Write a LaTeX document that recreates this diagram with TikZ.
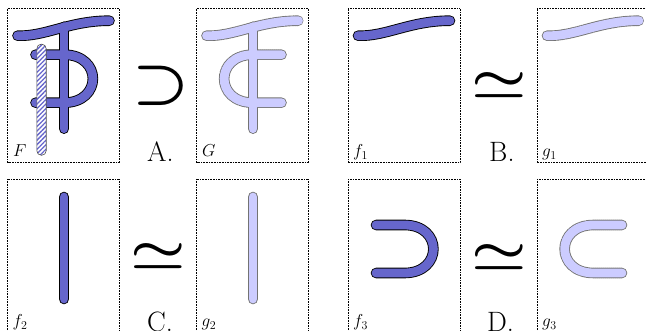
\documentclass[tikz,border=0pt]{standalone}
\usetikzlibrary{patterns.meta}
\definecolor{fblue}{RGB}{102,102,204}
\definecolor{gblue}{RGB}{204,204,255}
\tikzset{
  frame/.style={densely dotted, line width=0.6pt},
  outl/.style={line width=10.6pt, line cap=round, line join=round, black},
  inl/.style={line width=8.8pt, line cap=round, line join=round, fblue},
  goutl/.style={line width=10.6pt, line cap=round, line join=round, black!55, dash pattern=on 1.2pt off 0.8pt},
  ginl/.style={line width=8.8pt, line cap=round, line join=round, gblue},
  lab/.style={anchor=base west, inner sep=0pt, font=\fontsize{17}{17}\selectfont},
  big/.style={anchor=base west, inner sep=0pt, font=\fontsize{28}{28}\selectfont},
  rel/.style={inner sep=0pt, font=\Huge\boldmath, transform shape},
  supsym/.style={rel, xscale=2.56, yscale=2.35},
  simsym/.style={rel, xscale=2.5, yscale=2.0}
}
\newcommand\myBar[1]{\draw[#1] (10,27) .. controls (38,28) and (62,12) .. (102,12);}
\newcommand\myStem[1]{\draw[#1] (56.5,18) -- (56.5,120);}
\newcommand\myBowlR[1]{\draw[#1] (28,46) -- (56.5,46) .. controls (95,46) and (95,94) .. (56.5,94) -- (28,94);}
\newcommand\myBowlL[1]{\draw[#1] (85,46) -- (56.5,46) .. controls (18,46) and (18,94) .. (56.5,94) -- (85,94);}
\begin{document}
\begin{tikzpicture}[x=1pt,y=-1pt]
\useasboundingbox (0,0) rectangle (646,331);
% ---- F
\begin{scope}[shift={(7.5,8.7)}]
  \draw[frame] (0,0) rectangle (112,154);
  \myBar{outl}\myStem{outl}\myBowlR{outl}
  \myBar{inl}\myStem{inl}\myBowlR{inl}
  \draw[black!70, line width=0.6pt, rounded corners=4.6pt, preaction={fill=white},
        pattern={Lines[angle=45,distance=3.2pt,line width=1.3pt]}, pattern color=fblue]
        (29.3,35.4) rectangle (38.7,146.6);
  \node[lab] (lF) at (5.5,148) {$F$};
\end{scope}
\node[supsym] (sA) at (161,85.5) {$\supset$};
\node[big] (A) at (147,162) {A.};
% ---- G
\begin{scope}[shift={(196.5,8.7)}]
  \draw[frame] (0,0) rectangle (112,154);
  \myBar{goutl}\myStem{goutl}\myBowlL{goutl}
  \myBar{ginl}\myStem{ginl}\myBowlL{ginl}
  \node[lab] (lG) at (5.5,148) {$G$};
\end{scope}
% ---- f1
\begin{scope}[shift={(348,8.7)}]
  \draw[frame] (0,0) rectangle (112,154);
  \myBar{outl}\myBar{inl}
  \node[lab] (lf1) at (5,148) {$f_1$};
\end{scope}
\node[simsym] (sB) at (499,85) {$\simeq$};
\node[big] (B) at (489,162) {B.};
% ---- g1
\begin{scope}[shift={(537,8.7)}]
  \draw[frame] (0,0) rectangle (112,154);
  \myBar{goutl}\myBar{ginl}
  \node[lab] (lg1) at (5,148) {$g_1$};
\end{scope}
% ---- f2
\begin{scope}[shift={(7.5,179)}]
  \draw[frame] (0,0) rectangle (112,154);
  \myStem{outl}\myStem{inl}
  \node[lab] (lf2) at (5,148) {$f_2$};
\end{scope}
\node[simsym] (sC) at (158.5,256) {$\simeq$};
\node[big] (C) at (147,332) {C.};
% ---- g2
\begin{scope}[shift={(196.5,179)}]
  \draw[frame] (0,0) rectangle (112,154);
  \myStem{goutl}\myStem{ginl}
  \node[lab] (lg2) at (5,148) {$g_2$};
\end{scope}
% ---- f3
\begin{scope}[shift={(348,179)}]
  \draw[frame] (0,0) rectangle (112,154);
  \myBowlR{outl}\myBowlR{inl}
  \node[lab] (lf3) at (5,148) {$f_3$};
\end{scope}
\node[simsym] (sD) at (499,257) {$\simeq$};
\node[big] (D) at (487,332) {D.};
% ---- g3
\begin{scope}[shift={(537,179)}]
  \draw[frame] (0,0) rectangle (112,154);
  \myBowlL{goutl}\myBowlL{ginl}
  \node[lab] (lg3) at (5,148) {$g_3$};
\end{scope}
\end{tikzpicture}
\end{document}
